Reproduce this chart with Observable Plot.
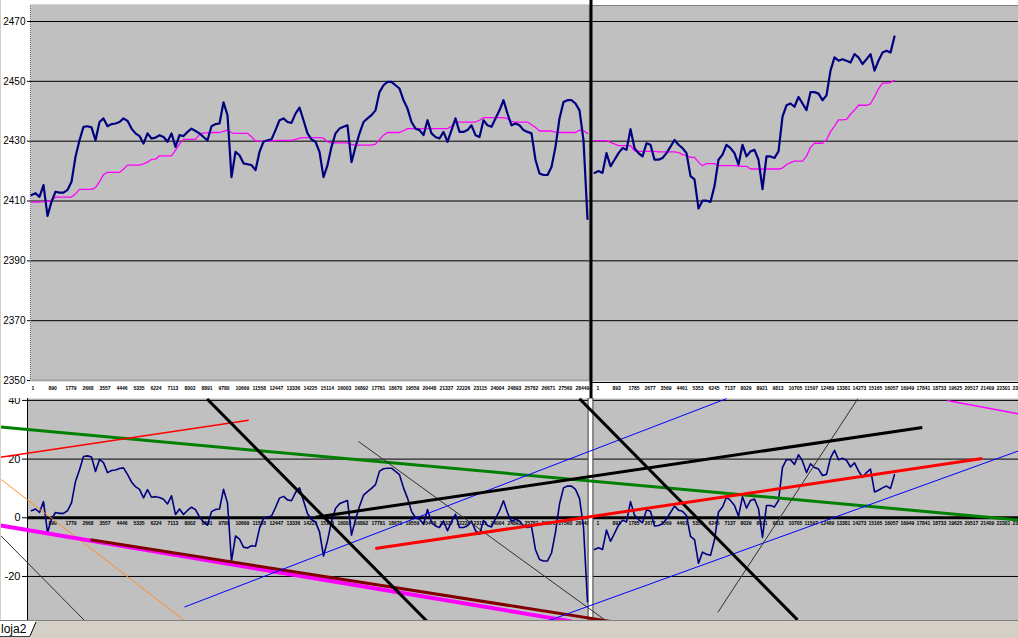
<!DOCTYPE html>
<html><head><meta charset="utf-8">
<script src="https://cdn.jsdelivr.net/npm/d3@7"></script>
<script src="https://cdn.jsdelivr.net/npm/@observablehq/plot@0.6"></script>
<style>
html,body{margin:0;padding:0;background:#fff;}
#root{position:relative;width:1018px;height:638px;overflow:hidden;background:#fff;font-family:"Liberation Sans",Arial,sans-serif;}
.layer{position:absolute;left:0;}
#status{position:absolute;left:0;top:620px;width:1018px;height:18px;background:#D4D0C8;border-top:1px solid #808080;box-sizing:border-box;}
#edge{position:absolute;left:0;top:0;width:1px;height:620px;background:#D4D0C8;}
</style>
</head><body><div id="root"><div id="edge"></div></div>
<script>
// ---------- data ----------
// left price panel (one sample per ~209 bars)
const leftPrice = [
2412.0,2412.6,2411.4,2415.3,2405.0,2409.8,2413.1,2412.8,2412.8,2413.7,
2416.4,2424.8,2430.3,2434.8,2435.0,2434.6,2430.3,2436.4,2437.6,2435.0,
2435.7,2435.9,2436.4,2437.6,2436.8,2434.2,2432.6,2431.7,2429.2,2432.6,
2430.9,2431.2,2432.0,2431.4,2429.8,2432.6,2428.1,2432.0,2431.7,2433.1,
2434.2,2433.4,2432.6,2431.4,2430.3,2435.0,2435.7,2435.9,2443.0,2438.7,
2418.0,2426.4,2425.3,2422.6,2422.3,2422.0,2420.3,2426.4,2429.8,2430.3,
2430.6,2433.7,2437.0,2437.6,2436.4,2436.1,2439.2,2441.2,2437.0,2432.6,
2430.6,2429.8,2426.4,2418.0,2422.0,2428.1,2432.6,2434.2,
2434.8,2435.3,2423.0,2428.1,2432.6,2436.4,2437.6,2438.7,2440.3,2446.4,
2448.7,2449.8,2449.8,2448.7,2447.6,2443.7,2440.9,2436.4,2434.2,2433.7,
2432.0,2437.0,2432.6,2431.4,2430.9,2433.1,2429.8,2433.7,2437.6,2433.1,
2433.1,2433.7,2435.3,2432.0,2431.4,2437.0,2435.3,2434.8,2437.6,2440.3,
2443.7,2439.2,2435.3,2435.9,2435.3,2433.7,2433.1,2432.6,2423.7,2419.2,
2418.7,2418.7,2421.4,2428.1,2437.6,2443.1,2443.7,2443.7,2442.6,2440.3,
2430.3,2404.0];
const leftMA = [
2409.6,2409.6,2409.6,2409.8,2410.0,2410.2,2411.3,2411.3,2411.3,2411.3,
2411.3,2412.4,2413.9,2413.9,2413.9,2413.9,2414.5,2416.5,2418.8,2419.6,
2419.6,2419.6,2419.6,2420.6,2422.0,2422.0,2422.0,2422.0,2422.4,2423.0,
2423.9,2424.0,2425.1,2425.1,2425.1,2425.1,2427.0,2429.0,2430.6,2430.6,
2430.6,2430.6,2432.3,2432.8,2432.8,2432.9,2432.9,2432.9,2433.3,2433.7,
2432.8,2432.6,2432.6,2432.6,2432.6,2431.5,2430.0,2430.0,2430.0,2430.0,
2430.0,2430.2,2430.3,2430.3,2430.3,2430.3,2430.6,2431.0,2431.2,2431.2,
2431.2,2431.2,2431.2,2431.0,2429.8,2429.4,2429.4,2429.4,
2429.4,2429.4,2428.9,2428.7,2428.7,2428.7,2428.7,2428.7,2429.0,2430.5,
2432.0,2432.9,2432.9,2432.9,2432.9,2433.5,2434.2,2434.2,2434.2,2434.2,
2434.2,2434.2,2434.2,2434.2,2434.2,2434.2,2434.2,2435.0,2436.4,2436.4,
2436.4,2436.4,2436.4,2436.4,2437.0,2437.9,2437.9,2437.9,2437.9,2437.9,
2437.9,2437.5,2436.6,2436.4,2436.4,2436.4,2436.4,2435.5,2434.6,2433.4,
2433.4,2433.4,2433.4,2433.0,2432.9,2432.9,2432.9,2432.9,2432.9,2433.7,
2433.5,2432.6];
const leftOsc = [
2.4,3.0,1.8,5.5,-5.0,-0.4,1.8,1.5,1.5,2.4,
5.1,12.4,16.4,20.9,21.1,20.7,15.8,19.9,18.8,15.4,
16.1,16.3,16.8,17.0,14.8,12.2,10.6,9.7,6.8,9.6,
7.0,7.2,6.9,6.3,4.7,7.5,1.1,3.0,1.1,2.5,
3.6,2.8,0.3,-1.4,-2.5,2.1,2.8,3.0,9.7,5.0,
-14.8,-6.2,-7.3,-10.0,-10.3,-9.5,-9.7,-3.6,-0.2,0.3,
0.6,3.5,6.7,7.3,6.1,5.8,8.6,10.2,5.8,1.4,
-0.6,-1.4,-4.8,-13.0,-7.8,-1.3,3.2,4.8,
5.4,5.9,-5.9,-0.6,3.9,7.7,8.9,10.0,11.3,15.9,
16.7,16.9,16.9,15.8,14.7,10.2,6.7,2.2,0.0,-0.5,
-2.2,2.8,-1.6,-2.8,-3.3,-1.1,-4.4,-1.3,1.2,-3.3,
-3.3,-2.7,-1.1,-4.4,-5.6,-0.9,-2.6,-3.1,-0.3,2.4,
5.8,1.7,-1.3,-0.5,-1.1,-2.7,-3.3,-2.9,-10.9,-14.2,
-14.7,-14.7,-12.0,-4.9,4.7,10.2,10.8,10.8,9.7,6.6,
-3.2,-28.6];
// right price panel (one sample per ~223 bars)
const rightPrice = [
2419.4,2420.0,2419.4,2426.0,2421.6,2423.8,2426.0,2427.7,2427.1,2434.0,
2427.7,2426.0,2424.9,2429.3,2428.8,2423.8,2423.8,2424.4,2426.0,2428.2,
2430.4,2428.8,2427.7,2426.0,2418.3,2417.2,2407.5,2410.1,2410.1,2409.7,
2415.0,2423.8,2425.5,2428.8,2427.7,2426.0,2422.2,2428.8,2424.9,2426.6,
2427.1,2423.8,2414.0,2424.9,2424.9,2424.4,2426.6,2438.2,2442.0,2442.6,
2441.5,2444.8,2442.6,2440.4,2446.4,2446.4,2445.9,2443.7,2445.3,2453.6,
2458.0,2456.9,2457.4,2456.9,2456.3,2459.1,2458.0,2455.8,2457.4,2459.1,
2453.6,2456.9,2459.6,2460.2,2459.6,2465.0];
const rightMA = [
2430.2,2430.2,2430.2,2430.2,2429.6,2429.1,2428.5,2428.5,2428.5,2428.5,
2426.8,2426.6,2426.6,2426.6,2426.6,2426.6,2426.4,2426.4,2426.4,2426.4,
2426.4,2426.2,2425.5,2425.2,2424.6,2424.6,2423.0,2421.8,2422.5,2422.5,
2422.5,2421.8,2421.8,2421.8,2421.8,2421.8,2421.7,2421.6,2421.6,2420.7,
2420.7,2420.7,2420.7,2420.7,2420.7,2420.7,2420.7,2421.0,2422.2,2422.8,
2423.3,2423.3,2423.3,2425.0,2428.0,2429.3,2429.3,2429.3,2430.5,2433.2,
2435.0,2437.1,2437.1,2437.3,2439.0,2440.4,2442.0,2442.0,2442.0,2442.5,
2444.8,2447.5,2449.4,2449.4,2449.6,2450.3];
const rightOsc = [
-10.8,-10.2,-10.8,-4.2,-8.0,-5.3,-2.5,-0.8,-1.4,5.5,
0.9,-0.6,-1.7,2.7,2.2,-2.8,-2.6,-2.0,-0.4,1.8,
4.0,2.6,2.2,0.8,-6.3,-7.4,-15.5,-11.7,-12.4,-12.8,
-7.5,2.0,3.7,7.0,5.9,4.2,0.5,7.2,3.3,5.9,
6.4,3.1,-6.7,4.2,4.2,3.7,5.9,17.2,19.8,19.8,
18.2,21.5,19.3,15.4,18.4,17.1,16.6,14.4,14.8,20.4,
23.0,19.8,20.3,19.6,17.3,18.7,16.0,13.8,15.4,16.6,
8.8,9.4,10.2,10.8,10.0,14.7];

const priceTicks = [2470,2450,2430,2410,2390,2370,2350];
const oscTicks = [40,20,0,-20];
const leftBarTicks = [1,890,1779,2668,3557,4446,5335,6224,7113,8002,8891,9780,10669,11558,12447,13336,14225,15114,16003,16892,17781,18670,19559,20448,21337,22226,23115,24004,24893,25782,26671,27560,28449];
const rightBarTicks = [1,893,1785,2677,3569,4461,5353,6245,7137,8029,8921,9813,10705,11597,12489,13381,14273,15165,16057,16949,17841,18733,19625,20517,21409,22301,23193];

// trend lines drawn on the oscillator pane: (sample position, oscillator value) end points
const trendLines = [
  {id:"green",    t1:-7.75, v1:30.9,  t2:246.75, v2:-0.75},
  {id:"redThin",  t1:-7.75, v1:20.6,  t2:54.3,   v2:33.2},
  {id:"orange",   t1:-7.75, v1:13.2,  t2:38.25,  v2:-35.0},
  {id:"grayA",    t1:-7.75, v1:-6.0,  t2:13.25,  v2:-35.0},
  {id:"magenta",  t1:-7.75, v1:-2.66, t2:135,    v2:-35.3},
  {id:"maroon",   t1:14.75, v1:-7.5,  t2:144.75, v2:-35.3},
  {id:"blueA",    t1:38.25, v1:-30.4, t2:173.75, v2:40.6},
  {id:"blueB",    t1:128.75,v1:-35.3, t2:246.75, v2:22.8},
  {id:"grayB",    t1:81.75, v1:26.0,  t2:143.75, v2:-35.2},
  {id:"grayC",    t1:171.6, v1:-32.2, t2:206.6,  v2:40.6},
  {id:"magentaThin", t1:228.9, v1:40.0, t2:246.75, v2:35.4},
  {id:"blackA",   t1:43.9,  v1:40.5,  t2:98.9,   v2:-35.3},
  {id:"blackB",   t1:137,   v1:40.6,  t2:191.5,  v2:-34.8},
  {id:"blackC",   t1:71,    v1:0.2,   t2:222.7,  v2:30.8},
  {id:"redThick", t1:85.95, v1:-10.5, t2:237.7,  v2:20.2}
];

// ---------- styles ----------
const trendStyle = {
  green:{c:"#008000",w:3}, redThin:{c:"#FF0000",w:1.5}, orange:{c:"#FF8C28",w:1},
  grayA:{c:"#303030",w:1}, magenta:{c:"#FF00FF",w:4}, maroon:{c:"#800000",w:3},
  blueA:{c:"#0000FF",w:1}, blueB:{c:"#0000FF",w:1}, grayB:{c:"#303030",w:1},
  grayC:{c:"#303030",w:1}, magentaThin:{c:"#FF00FF",w:1.5},
  blackA:{c:"#000",w:3}, blackB:{c:"#000",w:3}, blackC:{c:"#000",w:3}, redThick:{c:"#FF0000",w:3}
};
const BG = "#C0C0C0", NAVY = "#000080", MAG = "#FF00FF";
const FONT = "Liberation Sans, Arial, sans-serif";

// shared sample axis: left samples 0..139, right samples start after the split
const RIGHT_START = 140.75;
const LEFT_BARS_PER_SAMPLE = 209.2, RIGHT_BARS_PER_SAMPLE = 223;
const sepT = (leftPrice.length - 1 + RIGHT_START) / 2;
const leftRows = leftPrice.map((p, i) => ({t: i, price: p, ma: leftMA[i], osc: leftOsc[i]}));
const rightRows = rightPrice.map((p, j) => ({t: RIGHT_START + j, price: p, ma: rightMA[j], osc: rightOsc[j]}));
const leftTickT = b => (b - 1) / LEFT_BARS_PER_SAMPLE;
const rightTickT = b => RIGHT_START + 0.5 + (b - 1) / RIGHT_BARS_PER_SAMPLE;

const topX = [-0.25, 246.75], topY = [2349.67, 2475.35];
const botX = [-1, 246.75], botY = [-35.0, 40.65];

const tickText = {fill:"#000", fontSize:5, fontWeight:"bold", textAnchor:"start", fontFamily:FONT};

const pricePlot = Plot.plot({
  width:1018, height:398, marginLeft:30, marginRight:0, marginTop:5, marginBottom:17,
  style:{background:"#fff", fontFamily:FONT, color:"#000"},
  x:{domain:topX, axis:null},
  y:{domain:topY},
  marks:[
    Plot.frame({fill:BG, stroke:"none"}),
    Plot.ruleY(priceTicks.filter(d => d > topY[0] + 1), {stroke:"#000", strokeWidth:1}),
    Plot.axisY({ticks:priceTicks, anchor:"left", tickSize:3, tickPadding:2, fontSize:10, tickFormat:d => String(d), fontFamily:FONT}),
    Plot.rect([0], {x1:topX[0] + 0.1, x2:sepT - 0.3, y1:topY[0] + 0.3, y2:topY[1], fill:"none", stroke:"#606060", strokeDasharray:"1 1"}),
    Plot.ruleY([topY[1]], {x1:sepT, x2:topX[1], stroke:"#808080"}),
    Plot.ruleY([topY[0]], {x1:sepT, x2:topX[1], stroke:"#000", dy:1}),
    Plot.line(leftRows, {x:"t", y:"ma", stroke:MAG, strokeWidth:1.3}),
    Plot.line(rightRows, {x:"t", y:"ma", stroke:MAG, strokeWidth:1.3}),
    Plot.line(leftRows, {x:"t", y:"price", stroke:NAVY, strokeWidth:2.2}),
    Plot.line(rightRows, {x:"t", y:"price", stroke:NAVY, strokeWidth:2.2}),
    Plot.ruleX([sepT], {stroke:"#000", strokeWidth:3, insetTop:-5, insetBottom:-17}),
    Plot.text(leftBarTicks, {x:leftTickT, text:d => String(d), frameAnchor:"bottom", dy:8, ...tickText}),
    Plot.text(rightBarTicks, {x:rightTickT, text:d => String(d), frameAnchor:"bottom", dy:8, ...tickText})
  ]
});

const oscPlot = Plot.plot({
  width:1018, height:222, marginLeft:27, marginRight:0, marginTop:0, marginBottom:0,
  style:{background:"#fff", fontFamily:FONT, color:"#000"},
  x:{domain:botX, axis:null},
  y:{domain:botY},
  marks:[
    Plot.frame({fill:BG, stroke:"none"}),
    Plot.ruleY(oscTicks.filter(d => d !== 0), {stroke:"#000", strokeWidth:1}),
    Plot.ruleY([0], {stroke:"#000", strokeWidth:3}),
    Plot.ruleX([botX[0]], {stroke:"#000"}),
    Plot.axisY({ticks:oscTicks, anchor:"left", tickSize:5, tickPadding:2, fontSize:11, tickFormat:d => String(d), fontFamily:FONT}),
    Plot.text(leftBarTicks.slice(1), {x:leftTickT, y:0, dy:6, text:d => String(d), ...tickText}),
    Plot.text(rightBarTicks, {x:rightTickT, y:0, dy:6, text:d => String(d), ...tickText}),
    Plot.rect([sepT], {x1:d => d - 0.6, x2:d => d + 0.6, fill:"#fff", stroke:"#404040", strokeWidth:1}),
    Plot.line(leftRows, {x:"t", y:"osc", stroke:NAVY, strokeWidth:1.6}),
    Plot.line(rightRows, {x:"t", y:"osc", stroke:NAVY, strokeWidth:1.6}),
    Plot.link(trendLines, {x1:"t1", y1:"v1", x2:"t2", y2:"v2",
      stroke:d => trendStyle[d.id].c, strokeWidth:d => trendStyle[d.id].w})
  ]
});

const root = document.getElementById("root");
function place(el, topPx) {
  const wrap = document.createElement("div");
  wrap.className = "layer";
  wrap.style.top = topPx + "px";
  wrap.appendChild(el);
  root.appendChild(wrap);
}
place(pricePlot, 0);
place(oscPlot, 398);

const statusBar = document.createElement("div");
statusBar.id = "status";
statusBar.innerHTML = `<svg width="1018" height="17" style="display:block">
  <polygon points="0,0 36,0 30,15 0,15" fill="#fff"/>
  <line x1="36" y1="1" x2="30" y2="15" stroke="#000" stroke-width="1"/>
  <line x1="0" y1="15.5" x2="30" y2="15.5" stroke="#404040" stroke-width="1"/>
  <text x="1" y="12" font-family="${FONT}" font-size="12" fill="#000">loja2</text>
</svg>`;
root.appendChild(statusBar);
root.appendChild(document.getElementById("edge"));
</script>
</body></html>
